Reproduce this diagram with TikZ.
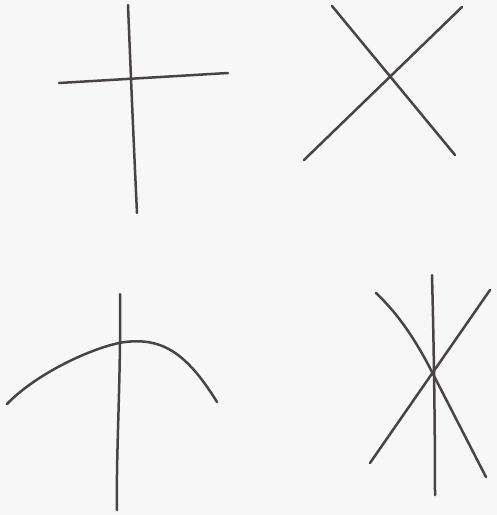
\documentclass[tikz,border=0pt]{standalone}
\begin{document}
\begin{tikzpicture}[x=1pt,y=-1pt,
  pen/.style={draw=penc,line width=2.5pt,line cap=round,line join=round}]
\definecolor{penc}{HTML}{4A4345}
\definecolor{paper}{HTML}{F7F7F7}
\fill[paper] (0,0) rectangle (497,515);
\useasboundingbox (0,0) rectangle (497,515);
% top-left cross
\draw[pen] (128,5) .. controls (131,80) and (134,150) .. (137,213);
\draw[pen] (59,83) -- (228,73);
% top-right X
\draw[pen] (332,6) -- (455,155);
\draw[pen] (304,160) -- (462,7);
% bottom-left
\draw[pen] (120,294) .. controls (121,380) and (116,450) .. (117,510);
\draw[pen] (7,404) .. controls (40,370) and (100,345) .. (125,342)
  .. controls (160,338) and (185,350) .. (217,402);
% bottom-right
\draw[pen] (432,275) .. controls (434,350) and (435,430) .. (435,495);
\draw[pen] (376,293) .. controls (392,308) and (412,332) .. (433,374)
  -- (486,477);
\draw[pen] (370,463) -- (490,290);
\end{tikzpicture}
\end{document}
